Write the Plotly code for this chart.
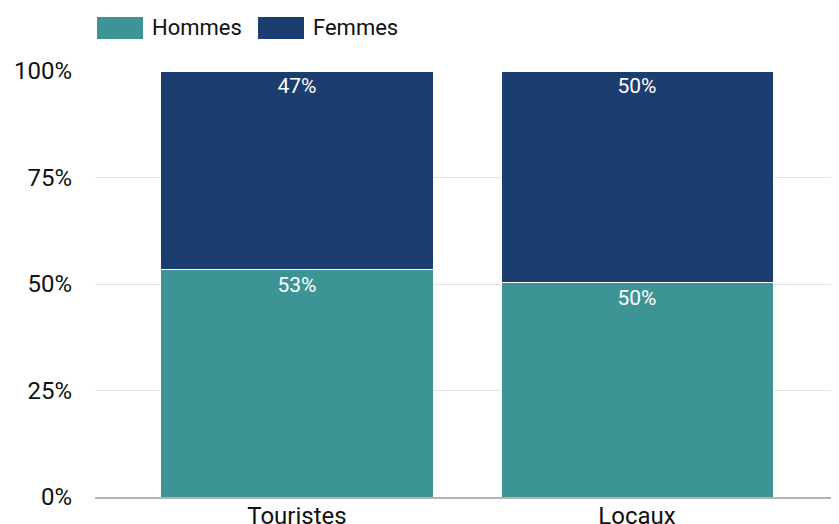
import plotly.graph_objects as go

categories = ['Touristes', 'Locaux']
hommes = [53.3, 50.3]
femmes = [46.7, 49.7]
series_names = ['Hommes', 'Femmes']
colors = ['#3D9494', '#1C3D70']
y_ticks = [0, 25, 50, 75, 100]
y_tick_labels = ['0%', '25%', '50%', '75%', '100%']

FONT = 'Roboto'

# plot area in page pixels (page body has an 8px margin)
PL, PR, PT, PB = 95, 839, 71, 497
W, H = 839, 524
OFF = 8

fig = go.Figure()
for name, vals, col in zip(series_names, [hommes, femmes], colors):
    fig.add_trace(go.Bar(
        x=categories, y=vals, name=name,
        marker=dict(color=col, line=dict(color='white', width=1)),
        texttemplate='%{y:.0f}%', textposition='inside',
        insidetextanchor='end',
        textfont=dict(family=FONT, size=21, color='white'),
        showlegend=False,
    ))


def px(x):
    return (x - PL) / (PR - PL)


def py(y):
    return (PB - y) / (PB - PT)


# custom legend (large rounded swatches)
leg_x = [97, 258]
for i, (name, col) in enumerate(zip(series_names, colors)):
    x0 = leg_x[i]
    fig.add_shape(type='rect', xref='paper', yref='paper',
                  x0=px(x0), x1=px(x0 + 46), y0=py(39), y1=py(17),
                  fillcolor=col, line=dict(width=0), layer='above')
    fig.add_annotation(xref='paper', yref='paper',
                       x=px(x0 + 53), y=py(27),
                       text=name, showarrow=False, xanchor='left', yanchor='middle',
                       font=dict(family=FONT, size=22, color='#111111'))

fig.update_layout(
    barmode='stack', bargap=0.2,
    width=W, height=H,
    margin=dict(l=PL - OFF, r=W - PR + OFF, t=PT - OFF, b=H - PB + OFF),
    paper_bgcolor='white', plot_bgcolor='white',
    font=dict(family=FONT, size=20, color='#111111'),
    uniformtext=dict(minsize=10, mode='show'),
)
fig.update_xaxes(range=[-0.594, 1.594], showline=True, linecolor='#b4b4b4', linewidth=2,
                 ticks='', automargin=False, ticklabelstandoff=-4,
                 tickfont=dict(family=FONT, size=24, color='#111111'))
fig.update_yaxes(range=[0, 100], tickvals=y_ticks, ticktext=y_tick_labels,
                 showgrid=True, gridcolor='#e2e2e2', gridwidth=1, zeroline=False,
                 ticks='', ticklabelstandoff=22, automargin=False,
                 tickfont=dict(family=FONT, size=24, color='#111111'))

fig.write_html('out.html')
